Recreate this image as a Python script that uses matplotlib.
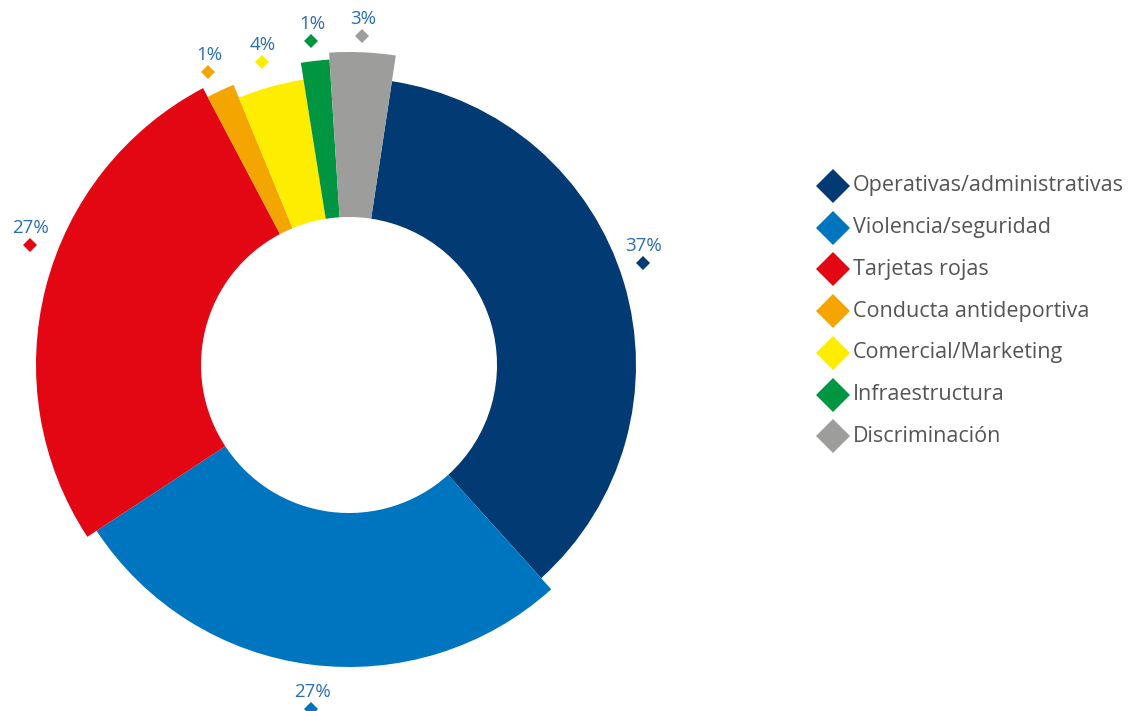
import numpy as np
import matplotlib.pyplot as plt
from matplotlib.patches import Wedge

categories = ['Operativas/administrativas', 'Violencia/seguridad', 'Tarjetas rojas',
              'Conducta antideportiva', 'Comercial/Marketing', 'Infraestructura',
              'Discriminación']
values = [35.9, 27.4, 26.5, 1.5, 3.7, 1.5, 3.4]
labels = ['37%', '27%', '27%', '1%', '4%', '1%', '3%']
colors = ['#023b73', '#0075bf', '#e30613', '#f5a500', '#ffed00', '#009540', '#9d9d9c']

# outer radius of each slice (px) and where its label diamond sits (angle deg, radius px)
radii = [287, 302, 313, 303, 289, 306, 313]
lbl_ang = [19.1, -96.3, 159.4, 115.7, 106.1, 96.7, 87.7]
lbl_r = [311, 346, 341, 325, 315, 326, 329]

W, H = 1140, 711
cx, cy = 349, H - 365
hole = 148
start = 81.4

fig = plt.figure(figsize=(W / 100, H / 100), dpi=100)
ax = fig.add_axes([0, 0, 1, 1])
ax.set_xlim(0, W)
ax.set_ylim(0, H)
ax.set_aspect('equal')
ax.axis('off')

plt.rcParams['font.family'] = ['Open Sans', 'DejaVu Sans']

total = sum(values)
t = start
for v, r, c in zip(values, radii, colors):
    sweep = v / total * 360
    ax.add_patch(Wedge((cx, cy), r, t - sweep, t, width=r - hole, facecolor=c, edgecolor='none'))
    t -= sweep

for lab, a, r, c in zip(labels, lbl_ang, lbl_r, colors):
    x = cx + r * np.cos(np.radians(a))
    y = cy + r * np.sin(np.radians(a))
    ax.plot(x, y, marker='D', markersize=7.5, color=c, markeredgewidth=0)
    ax.text(x + 1, y + 8, lab, ha='center', va='bottom', fontsize=13.5, color='#2a6db5')

# legend
for i, (name, c) in enumerate(zip(categories, colors)):
    y = H - (186 + i * 41.7)
    ax.plot(833, y, marker='D', markersize=17, color=c, markeredgewidth=0)
    ax.text(853, y, name, ha='left', va='center', fontsize=15.5, color='#555555')

fig.savefig('out.png', dpi=100)
